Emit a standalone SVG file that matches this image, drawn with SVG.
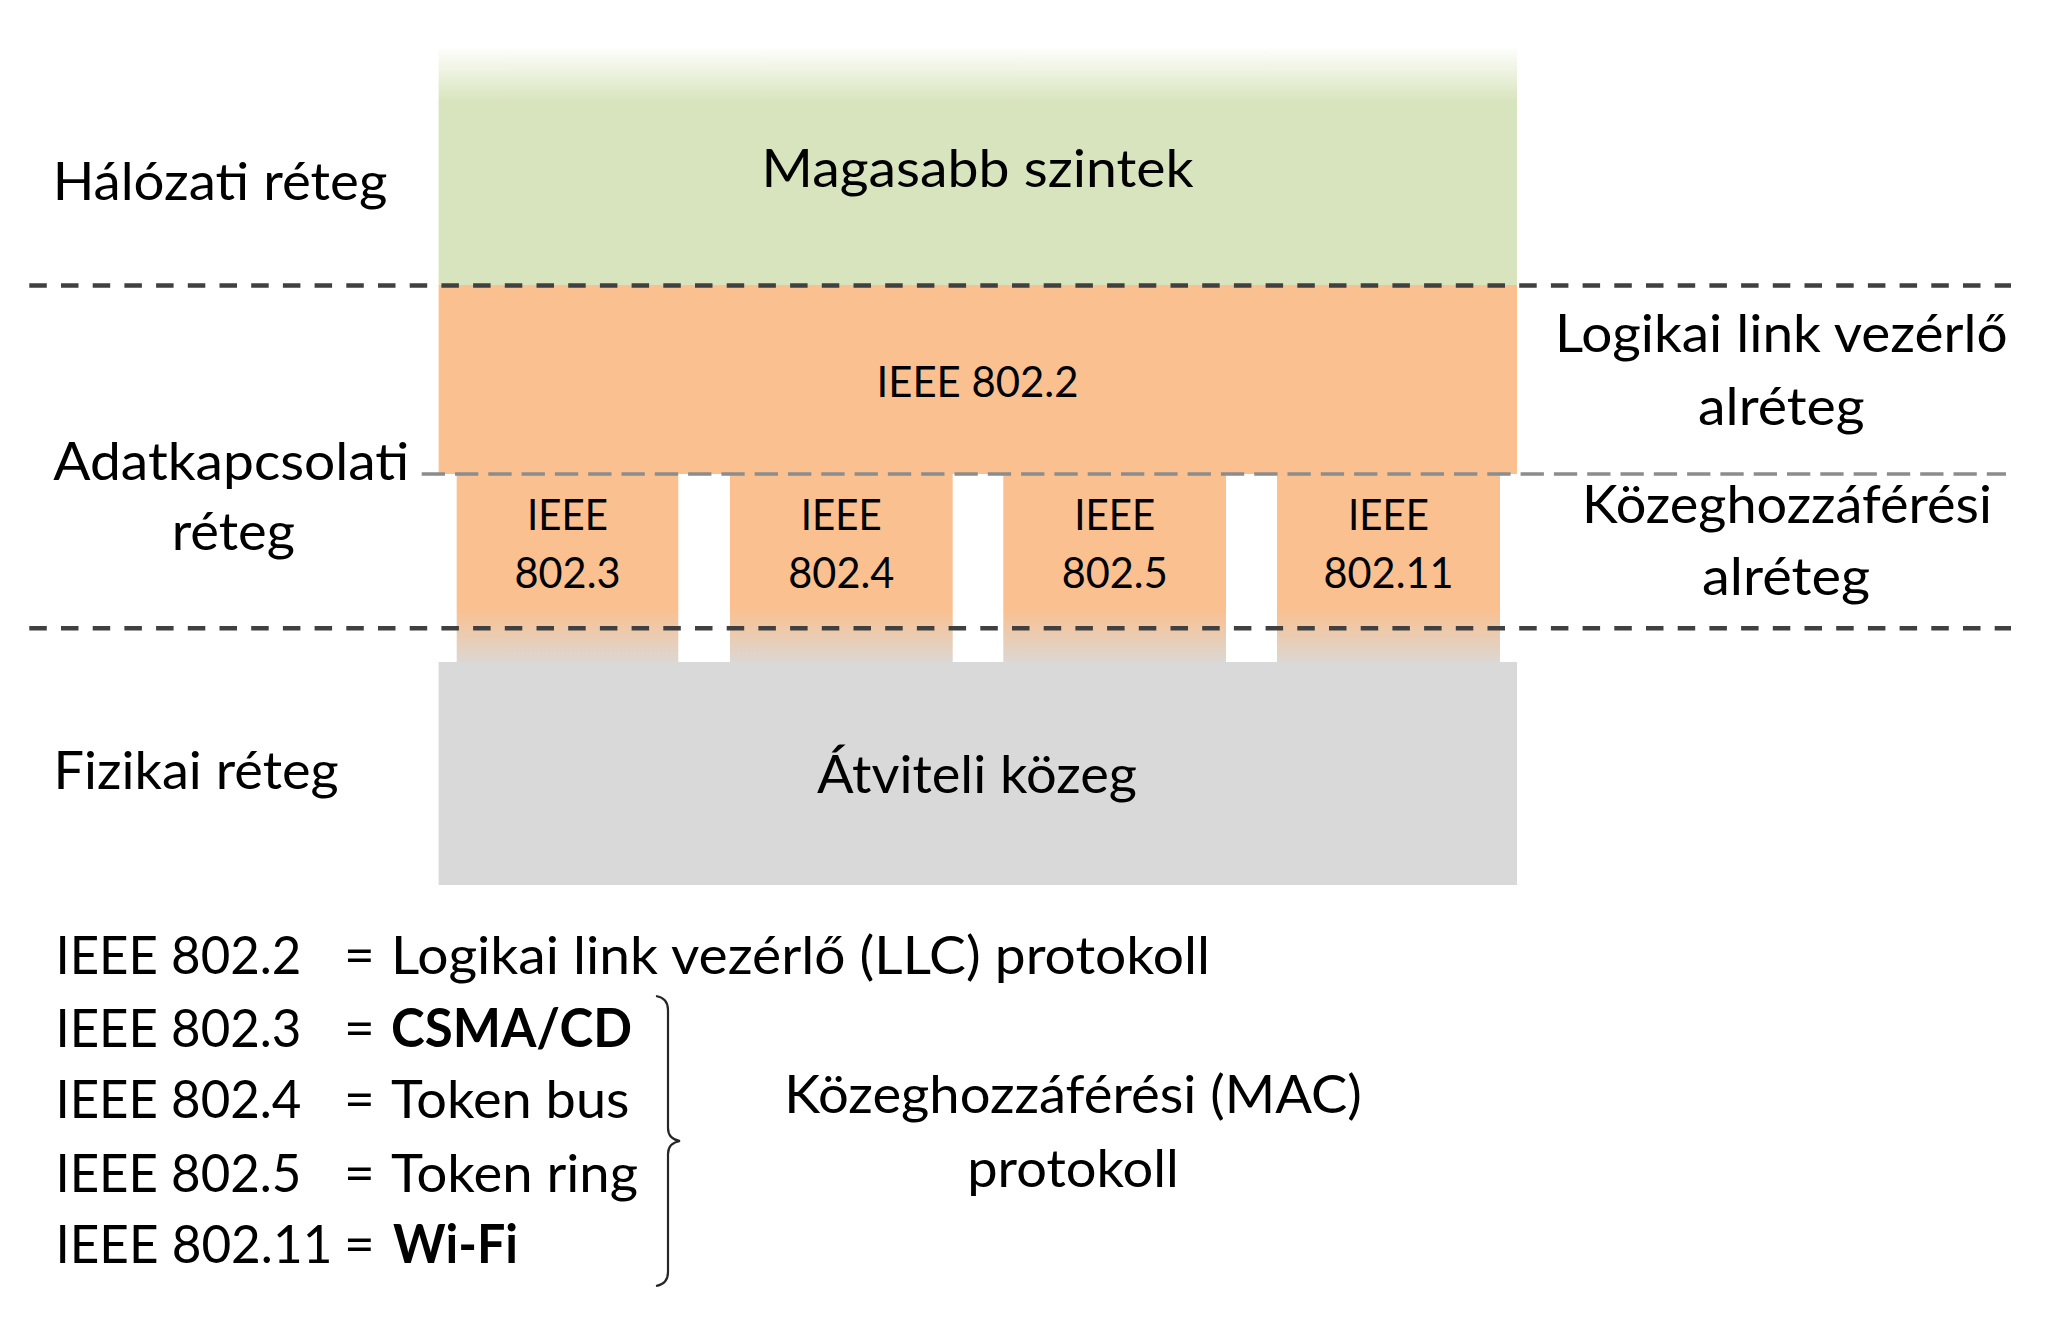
<svg xmlns="http://www.w3.org/2000/svg" width="2047" height="1328" viewBox="0 0 2047 1328">
  <style>
    text { font-family: Lato, "Open Sans", "Liberation Sans", sans-serif; fill: #000; }
    .big { font-size: 53px; }
    .mid { font-size: 42px; }
    .mc { text-anchor: middle; }
    .b { font-weight: bold; }
    .sepDark { stroke: #404040; stroke-width: 4.5; stroke-dasharray: 17.5 14.2; fill: none; }
    .sepLight { stroke: #8C8C8C; stroke-width: 3.5; stroke-dasharray: 23.3 10; fill: none; }
  </style>
  <defs>
    <linearGradient id="greenFade" gradientUnits="userSpaceOnUse" x1="0" y1="46" x2="0" y2="102">
      <stop offset="0" stop-color="#D8E4BD" stop-opacity="0"/>
      <stop offset="1" stop-color="#D8E4BD" stop-opacity="1"/>
    </linearGradient>
    <linearGradient id="macFade" gradientUnits="userSpaceOnUse" x1="0" y1="474" x2="0" y2="662">
      <stop offset="0" stop-color="#FAC090"/>
      <stop offset="0.72" stop-color="#FAC090"/>
      <stop offset="1" stop-color="#DCD7D2"/>
    </linearGradient>
  </defs>
  <rect width="2047" height="1328" fill="#fff"/>

  <g id="node-magasabb">
    <rect x="438.6" y="46" width="1078.4" height="239" fill="url(#greenFade)"/>
    <text class="big mc" x="977.6" y="187" textLength="432" lengthAdjust="spacingAndGlyphs">Magasabb szintek</text>
  </g>
  <g id="node-llc">
    <rect x="438.6" y="285" width="1078.4" height="189" fill="#FAC090"/>
    <text class="mid mc" x="977.5" y="396.7" textLength="202" lengthAdjust="spacingAndGlyphs">IEEE 802.2</text>
  </g>
  <g id="node-8023">
    <rect x="456.7" y="474" width="221.6" height="188" fill="url(#macFade)"/>
    <text class="mid mc" x="567.5" y="530" textLength="81" lengthAdjust="spacingAndGlyphs">IEEE</text>
    <text class="mid mc" x="567.5" y="587.7" textLength="106" lengthAdjust="spacingAndGlyphs">802.3</text>
  </g>
  <g id="node-8024">
    <rect x="730" y="474" width="222.7" height="188" fill="url(#macFade)"/>
    <text class="mid mc" x="841.3" y="530" textLength="81" lengthAdjust="spacingAndGlyphs">IEEE</text>
    <text class="mid mc" x="841.3" y="587.7" textLength="106" lengthAdjust="spacingAndGlyphs">802.4</text>
  </g>
  <g id="node-8025">
    <rect x="1003.3" y="474" width="222.7" height="188" fill="url(#macFade)"/>
    <text class="mid mc" x="1114.7" y="530" textLength="81" lengthAdjust="spacingAndGlyphs">IEEE</text>
    <text class="mid mc" x="1114.7" y="587.7" textLength="106" lengthAdjust="spacingAndGlyphs">802.5</text>
  </g>
  <g id="node-80211">
    <rect x="1277" y="474" width="223" height="188" fill="url(#macFade)"/>
    <text class="mid mc" x="1388.5" y="530" textLength="81" lengthAdjust="spacingAndGlyphs">IEEE</text>
    <text class="mid mc" x="1388.5" y="587.7" textLength="130" lengthAdjust="spacingAndGlyphs">802.11</text>
  </g>
  <g id="node-atviteli">
    <rect x="438.6" y="662" width="1078.4" height="223" fill="#D9D9D9"/>
    <text class="big mc" x="977" y="793" textLength="320" lengthAdjust="spacingAndGlyphs">Átviteli közeg</text>
  </g>

  <g id="labels-left">
    <text class="big" x="52.7" y="200" textLength="334.6" lengthAdjust="spacingAndGlyphs">Hálózati réteg</text>
    <text class="big" x="53.3" y="480" textLength="356" lengthAdjust="spacingAndGlyphs">Adatkapcsolati</text>
    <text class="big" x="171.7" y="550" textLength="123.3" lengthAdjust="spacingAndGlyphs">réteg</text>
    <text class="big" x="53.6" y="789" textLength="285" lengthAdjust="spacingAndGlyphs">Fizikai réteg</text>
  </g>
  <g id="labels-right">
    <text class="big mc" x="1781.3" y="351.7" textLength="452.6" lengthAdjust="spacingAndGlyphs">Logikai link vezérlő</text>
    <text class="big mc" x="1781.3" y="425" textLength="166.6" lengthAdjust="spacingAndGlyphs">alréteg</text>
    <text class="big mc" x="1787" y="523" textLength="410" lengthAdjust="spacingAndGlyphs">Közeghozzáférési</text>
    <text class="big mc" x="1786" y="595" textLength="168" lengthAdjust="spacingAndGlyphs">alréteg</text>
  </g>

  <g id="connectors">
    <line class="sepDark" x1="29.3" y1="285.5" x2="2011" y2="285.5"/>
    <line class="sepLight" x1="421.7" y1="474" x2="2006" y2="474"/>
    <line class="sepDark" x1="29.3" y1="628.3" x2="2011" y2="628.3"/>
    <path d="M656,996 Q668,998 668,1010 L668,1128 Q668,1139 680,1141 Q668,1143 668,1154 L668,1272 Q668,1284 656,1286" fill="none" stroke="#262626" stroke-width="2.2"/>
  </g>

  <g id="legend">
    <text class="big" x="55.4" y="974" textLength="246" lengthAdjust="spacingAndGlyphs">IEEE 802.2</text>
    <text class="big" x="344" y="974">=</text>
    <text class="big" x="391" y="974" textLength="819" lengthAdjust="spacingAndGlyphs">Logikai link vezérlő (LLC) protokoll</text>

    <text class="big" x="55.4" y="1046.7" textLength="246" lengthAdjust="spacingAndGlyphs">IEEE 802.3</text>
    <text class="big" x="344" y="1046.7">=</text>
    <text class="big b" x="391" y="1046.7" textLength="241" lengthAdjust="spacingAndGlyphs">CSMA/CD</text>

    <text class="big" x="55.4" y="1118" textLength="246" lengthAdjust="spacingAndGlyphs">IEEE 802.4</text>
    <text class="big" x="344" y="1118">=</text>
    <text class="big" x="391" y="1118" textLength="238.5" lengthAdjust="spacingAndGlyphs">Token bus</text>

    <text class="big" x="55.4" y="1191.7" textLength="246" lengthAdjust="spacingAndGlyphs">IEEE 802.5</text>
    <text class="big" x="344" y="1191.7">=</text>
    <text class="big" x="391" y="1191.7" textLength="247" lengthAdjust="spacingAndGlyphs">Token ring</text>

    <text class="big" x="55.4" y="1263" textLength="277" lengthAdjust="spacingAndGlyphs">IEEE 802.11</text>
    <text class="big" x="344" y="1263">=</text>
    <text class="big b" x="393" y="1263" textLength="125" lengthAdjust="spacingAndGlyphs">Wi-Fi</text>

    <text class="big mc" x="1073" y="1113" textLength="577.6" lengthAdjust="spacingAndGlyphs">Közeghozzáférési (MAC)</text>
    <text class="big mc" x="1073" y="1186.7" textLength="211.6" lengthAdjust="spacingAndGlyphs">protokoll</text>
  </g>
</svg>
